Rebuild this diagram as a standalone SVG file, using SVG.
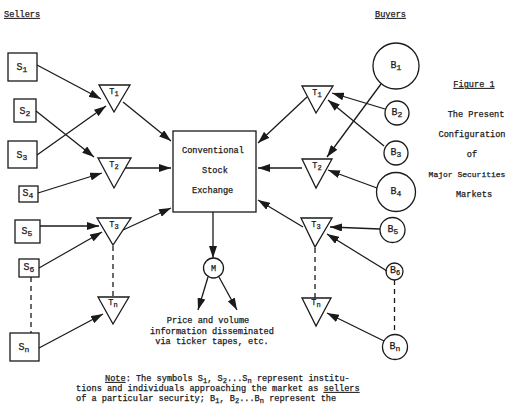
<svg xmlns="http://www.w3.org/2000/svg" width="508" height="406" viewBox="0 0 508 406">
  <defs>
    <marker id="arrow" markerUnits="userSpaceOnUse" markerWidth="12" markerHeight="8" refX="12" refY="4" orient="auto">
      <path d="M0,0 L12,4 L0,8 z" fill="#1a1a1a"/>
    </marker>
  </defs>
  <style>
    text { font-family: "Liberation Mono", "DejaVu Sans Mono", monospace; fill: #1a1a1a; stroke: #1a1a1a; stroke-width: 0.25; }
    .shape { fill: none; stroke: #1a1a1a; stroke-width: 1.3; }
    .edge { fill: none; stroke: #1a1a1a; stroke-width: 1.3; marker-end: url(#arrow); }
    .dash { fill: none; stroke: #1a1a1a; stroke-width: 1.3; stroke-dasharray: 5 4; }
    .cap { font-size: 8.6px; }
    .lbl { font-size: 10px; text-anchor: middle; }
    .tl { font-size: 8.5px; text-anchor: middle; }
    .ul { text-decoration: underline; }
  </style>
  <rect width="508" height="406" fill="#ffffff"/>

  <!-- column headings -->
  <text class="cap ul" x="4" y="17">Sellers</text>
  <text class="cap ul" x="375" y="17">Buyers</text>

  <!-- figure caption -->
  <g id="caption" class="cap" text-anchor="middle">
    <text class="ul" x="474" y="87">Figure 1</text>
    <text x="476" y="117">The Present</text>
    <text x="472" y="137">Configuration</text>
    <text x="472" y="157">of</text>
    <text x="467" y="177" font-size="8">Major Securities</text>
    <text x="474" y="197">Markets</text>
  </g>

  <!-- connectors -->
  <g id="connectors">
    <!-- sellers to left trading points -->
    <line class="edge" x1="37" y1="65" x2="101" y2="99"/>
    <line class="edge" x1="36" y1="111" x2="94" y2="157"/>
    <line class="edge" x1="37" y1="155" x2="106" y2="106"/>
    <line class="edge" x1="38" y1="193" x2="102" y2="173"/>
    <line class="edge" x1="40" y1="226" x2="99" y2="226"/>
    <line class="edge" x1="39" y1="268" x2="102" y2="232"/>
    <line class="edge" x1="39" y1="348" x2="103" y2="314"/>
    <!-- left trading points to exchange -->
    <line class="edge" x1="123" y1="102" x2="171" y2="141"/>
    <line class="edge" x1="125" y1="168" x2="171" y2="168"/>
    <line class="edge" x1="123" y1="230" x2="171" y2="208"/>
    <!-- right trading points to exchange -->
    <line class="edge" x1="307" y1="97" x2="258" y2="143"/>
    <line class="edge" x1="302" y1="168" x2="258" y2="168"/>
    <line class="edge" x1="303" y1="227" x2="258" y2="200"/>
    <!-- buyers to right trading points -->
    <line class="edge" x1="385" y1="109" x2="332" y2="93"/>
    <line class="edge" x1="384" y1="146" x2="328" y2="100"/>
    <line class="edge" x1="381" y1="84" x2="327" y2="157"/>
    <line class="edge" x1="377" y1="188" x2="328" y2="170"/>
    <line class="edge" x1="380" y1="229" x2="330" y2="227"/>
    <line class="edge" x1="387" y1="271" x2="327" y2="234"/>
    <line class="edge" x1="384" y1="341" x2="327" y2="313"/>
    <!-- exchange to market information -->
    <line class="edge" x1="213" y1="212" x2="213" y2="258"/>
    <line class="edge" x1="208" y1="277" x2="198" y2="310"/>
    <line class="edge" x1="219" y1="277" x2="237" y2="310"/>
    <!-- continuation dashes -->
    <line class="dash" x1="31" y1="277" x2="31" y2="333"/>
    <line class="dash" x1="113" y1="246" x2="113" y2="297"/>
    <line class="dash" x1="315" y1="248" x2="315" y2="298"/>
    <line class="dash" x1="394.5" y1="280" x2="394.5" y2="335"/>
  </g>

  <!-- sellers -->
  <g id="S1"><rect class="shape" x="8" y="53" width="29" height="28"/><text class="lbl" x="22" y="70">S<tspan font-size="8" dy="2">1</tspan></text></g>
  <g id="S2"><rect class="shape" x="14" y="99" width="22" height="23"/><text class="lbl" x="25" y="114">S<tspan font-size="8" dy="2">2</tspan></text></g>
  <g id="S3"><rect class="shape" x="8" y="141" width="29" height="27"/><text class="lbl" x="22" y="158">S<tspan font-size="8" dy="2">3</tspan></text></g>
  <g id="S4"><rect class="shape" x="19" y="186" width="19" height="16"/><text class="lbl" x="28" y="196">S<tspan font-size="8" dy="2">4</tspan></text></g>
  <g id="S5"><rect class="shape" x="15" y="220" width="25" height="23"/><text class="lbl" x="27" y="234">S<tspan font-size="8" dy="2">5</tspan></text></g>
  <g id="S6"><rect class="shape" x="19" y="259" width="20" height="18"/><text class="lbl" x="29" y="270">S<tspan font-size="8" dy="2">6</tspan></text></g>
  <g id="Sn"><rect class="shape" x="10" y="333" width="29" height="28"/><text class="lbl" x="24" y="350">S<tspan font-size="8" dy="2">n</tspan></text></g>

  <!-- left trading points -->
  <g id="TL1"><path class="shape" d="M99,85 L130,85 L114,112 z"/><text class="tl" x="114" y="94">T<tspan font-size="7" dy="2">1</tspan></text></g>
  <g id="TL2"><path class="shape" d="M98,158 L131,158 L114,188 z"/><text class="tl" x="114" y="167">T<tspan font-size="7" dy="2">2</tspan></text></g>
  <g id="TL3"><path class="shape" d="M97,218 L131,218 L113,245 z"/><text class="tl" x="114" y="227">T<tspan font-size="7" dy="2">3</tspan></text></g>
  <g id="TLn"><path class="shape" d="M98,297 L129,297 L113,324 z"/><text class="tl" x="113" y="305">T<tspan font-size="7" dy="2">n</tspan></text></g>

  <!-- exchange -->
  <g id="exchange">
    <rect class="shape" x="173" y="131" width="83" height="81"/>
    <text class="cap" x="182" y="153">Conventional</text>
    <text class="cap" x="202" y="173">Stock</text>
    <text class="cap" x="192" y="193">Exchange</text>
  </g>

  <!-- right trading points -->
  <g id="TR1"><path class="shape" d="M302,86 L333,86 L316,113 z"/><text class="tl" x="317" y="95">T<tspan font-size="7" dy="2">1</tspan></text></g>
  <g id="TR2"><path class="shape" d="M302,159 L332,159 L316,188 z"/><text class="tl" x="317" y="168">T<tspan font-size="7" dy="2">2</tspan></text></g>
  <g id="TR3"><path class="shape" d="M301,218 L332,218 L315,247 z"/><text class="tl" x="316" y="227">T<tspan font-size="7" dy="2">3</tspan></text></g>
  <g id="TRn"><path class="shape" d="M302,298 L331,298 L316,326 z"/><text class="tl" x="316" y="305">T<tspan font-size="7" dy="2">n</tspan></text></g>

  <!-- buyers -->
  <g id="B1"><circle class="shape" cx="396" cy="66" r="23"/><text class="lbl" x="396" y="68">B<tspan font-size="8" dy="2">1</tspan></text></g>
  <g id="B2"><circle class="shape" cx="397" cy="113" r="12"/><text class="lbl" x="397" y="115">B<tspan font-size="8" dy="2">2</tspan></text></g>
  <g id="B3"><circle class="shape" cx="396" cy="153" r="12"/><text class="lbl" x="396" y="155">B<tspan font-size="8" dy="2">3</tspan></text></g>
  <g id="B4"><circle class="shape" cx="396" cy="192" r="19.5"/><text class="lbl" x="396" y="194">B<tspan font-size="8" dy="2">4</tspan></text></g>
  <g id="B5"><circle class="shape" cx="392.5" cy="230" r="12.5"/><text class="lbl" x="393" y="232">B<tspan font-size="8" dy="2">5</tspan></text></g>
  <g id="B6"><circle class="shape" cx="394.5" cy="271.5" r="8.5"/><text class="lbl" x="395" y="273" font-size="8.5">B<tspan font-size="7" dy="2">6</tspan></text></g>
  <g id="Bn"><circle class="shape" cx="395" cy="347" r="12.5"/><text class="lbl" x="395" y="349">B<tspan font-size="8" dy="2">n</tspan></text></g>

  <!-- market information -->
  <g id="M"><circle class="shape" cx="213.5" cy="268" r="10"/><text class="tl" x="213.5" y="271" font-size="7.5">M</text></g>
  <g id="info" class="cap" text-anchor="middle">
    <text x="208" y="323">Price and volume</text>
    <text x="212" y="334">information disseminated</text>
    <text x="212" y="344">via ticker tapes, etc.</text>
  </g>

  <!-- note -->
  <g id="note" class="cap" xml:space="preserve">
    <text x="105" y="381"><tspan class="ul">Note</tspan>:  The symbols S<tspan font-size="7" dy="2">1</tspan><tspan dy="-2">, S</tspan><tspan font-size="7" dy="2">2</tspan><tspan dy="-2">...S</tspan><tspan font-size="7" dy="2">n</tspan><tspan dy="-2"> represent institu-</tspan></text>
    <text x="76" y="391">tions and individuals approaching the market as <tspan class="ul">sellers</tspan></text>
    <text x="76" y="401">of a particular security; B<tspan font-size="7" dy="2">1</tspan><tspan dy="-2">, B</tspan><tspan font-size="7" dy="2">2</tspan><tspan dy="-2">...B</tspan><tspan font-size="7" dy="2">n</tspan><tspan dy="-2"> represent the</tspan></text>
  </g>
</svg>
